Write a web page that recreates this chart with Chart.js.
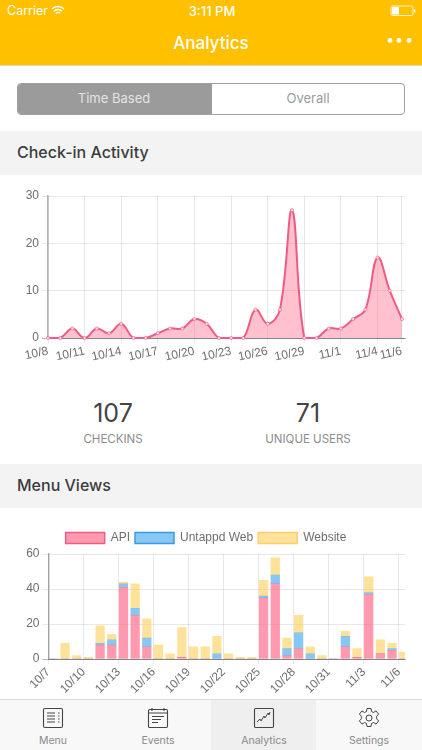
<!DOCTYPE html>
<html><head><meta charset="utf-8">
<script src="https://cdn.jsdelivr.net/npm/chart.js@4"></script>
<style>
*{box-sizing:border-box}
html,body{margin:0;padding:0;background:#fff;overflow:hidden}
body{width:422px;height:750px;position:relative;font-family:Inter,Roboto,sans-serif}
.a{position:absolute}
.t{position:absolute;white-space:nowrap;line-height:1}
.c{transform:translateX(-50%)}
canvas{position:absolute}
.sec{position:absolute;left:0;width:422px;height:44px;background:#f3f3f3;color:#3c3c3c;font-size:16px;font-weight:500;padding:12px 0 0 17px;line-height:18px}
</style></head><body>
<div class="a" style="left:0;top:0;width:422px;height:66px;background:#ffc000;border-bottom:1px solid #e8d9a8"></div>
<div class="t" style="left:7px;top:5px;font-size:12.5px;color:#fff">Carrier</div>
<svg class="a" style="left:51px;top:5px" width="14" height="11" viewBox="0 0 14 11" fill="none" stroke="#fff" stroke-width="1.4"><path d="M1 4a8.500 8.500 0 0 1 12 0M3 6.200a5.500 5.500 0 0 1 8 0M5 8.300a2.600 2.600 0 0 1 4 0"/></svg>
<div class="t c" style="left:212px;top:5px;font-size:13px;font-weight:500;color:#fff">3:11 PM</div>
<svg class="a" style="left:390px;top:5px" width="26" height="12" viewBox="0 0 26 12"><rect x="1" y="1" width="22" height="9.500" rx="1.500" fill="none" stroke="#fff" stroke-width=".8"/><rect x="2" y="2" width="7" height="7.500" fill="#fff"/><rect x="24" y="4.500" width="1.300" height="3" fill="#fff"/></svg>
<div class="t c" style="left:211px;top:35px;font-size:17px;font-weight:500;color:#fff">Analytics</div>
<svg class="a" style="left:386px;top:36px" width="26" height="9"><circle cx="4" cy="4.500" r="2.400" fill="#fff"/><circle cx="13" cy="4.500" r="2.400" fill="#fff"/><circle cx="23" cy="4.500" r="2.400" fill="#fff"/></svg>

<div class="a" style="left:17px;top:83px;width:388px;height:32px;border:1px solid #a0a0a0;border-radius:4px;background:#fff;overflow:hidden"><div class="a" style="left:0;top:0;width:194px;height:32px;background:#9b9b9b"></div></div>
<div class="t c" style="left:114px;top:92px;font-size:13px;color:#e4e4e4">Time Based</div>
<div class="t c" style="left:308px;top:92px;font-size:13px;color:#9b9b9b">Overall</div>

<div class="sec" style="top:131px">Check-in Activity</div>
<canvas id="lineChart" style="left:0;top:176px;width:422px;height:194px"></canvas>

<div class="t c" style="left:113px;top:401px;font-size:25px;color:#444">107</div>
<div class="t c" style="left:113px;top:434px;font-size:11.500px;color:#8c8c8c">CHECKINS</div>
<div class="t c" style="left:308px;top:401px;font-size:25px;color:#444">71</div>
<div class="t c" style="left:308px;top:434px;font-size:11.500px;color:#8c8c8c">UNIQUE USERS</div>

<div class="sec" style="top:464px">Menu Views</div>
<canvas id="barChart" style="left:0;top:526px;width:422px;height:173px"></canvas>

<div class="a" style="left:0;top:699px;width:422px;height:51px;background:#f8f8f8;border-top:1px solid #dcdcdc"></div>
<div class="a" style="left:211px;top:700px;width:105px;height:50px;background:#efefef"></div>
<svg class="a" style="left:42px;top:707px" width="22" height="22" viewBox="0 0 22 22" fill="none" stroke="#444"><rect x="1.500" y="1.500" width="19" height="19" rx="1.500" stroke-width="1.100"/><path d="M5 6h8M5 9h8M5 12h8M5 15h8M16 6h1.500M16 9h1.500M16 12h1.500M16 15h1.500" stroke-width="1.200"/></svg>
<svg class="a" style="left:147px;top:707px" width="22" height="22" viewBox="0 0 22 22" fill="none" stroke="#444" stroke-width="1.100"><rect x="1.500" y="2.500" width="19" height="18" rx="1.200"/><path d="M1.500 6h19M5 1v3M17 1v3M5 9.500h12M5 12.500h9M5 15.500h6"/></svg>
<svg class="a" style="left:253px;top:707px" width="22" height="22" viewBox="0 0 22 22" fill="none" stroke="#444"><rect x="1.500" y="1.500" width="19" height="19" rx="1.200" stroke-width="1.100"/><path d="M4 15l3-3 1 2 3-5 1 2 3-5 1 2 1-3" stroke-width="1"/></svg>
<svg class="a" style="left:358px;top:707px" width="22" height="22" viewBox="0 0 22 22" fill="none" stroke="#444" stroke-width="1"><circle cx="11" cy="11" r="3"/><path d="M9 1.500h4l.5 3 2 1 2.600-1.600 2.500 3.200-2 2.200v2.400l2 2.200-2.500 3.200-2.600-1.600-2 1-.5 3H9l-.5-3-2-1-2.600 1.600-2.500-3.200 2-2.200V9.300l-2-2.200 2.500-3.200 2.600 1.600 2-1z"/></svg>
<div class="t c" style="left:53px;top:736px;font-size:10.500px;color:#8a8a8a">Menu</div>
<div class="t c" style="left:158px;top:736px;font-size:10.500px;color:#8a8a8a">Events</div>
<div class="t c" style="left:264px;top:736px;font-size:10.500px;color:#8a8a8a">Analytics</div>
<div class="t c" style="left:369px;top:736px;font-size:10.500px;color:#8a8a8a">Settings</div>

<script>
const checkinDates = ["10/8","10/9","10/10","10/11","10/12","10/13","10/14","10/15","10/16","10/17","10/18","10/19","10/20","10/21","10/22","10/23","10/24","10/25","10/26","10/27","10/28","10/29","10/30","10/31","11/1","11/2","11/3","11/4","11/5","11/6"];
const checkins = [0,0,2,0,2,1,3,0,0,1,2,2,4,3,0,0,0,6,3,6,27,0,0,2,2,4,6,17,10,4];
const checkinTickIndexes = [0,3,6,9,12,15,18,21,24,27,29];

const menuDates = ["10/7","10/8","10/9","10/10","10/11","10/12","10/13","10/14","10/15","10/16","10/17","10/18","10/19","10/20","10/21","10/22","10/23","10/24","10/25","10/26","10/27","10/28","10/29","10/30","10/31","11/1","11/2","11/3","11/4","11/5","11/6"];
const apiViews =     [0,0,0,0,8,8,41,25,7,0,0,1,0,0,0,0,0,0,35,43,2,6,0,0,0,7,1,37,3,5,0];
const untappdViews = [0,0,0,0,1,3,2,4,5,0,0,0,0,0,3,0,0,0,1,5,4,9,3,0,0,6,0,1,0,1,0];
const websiteViews = [0,9,2,1,10,3,1,14,11,8,3,17,7,7,10,3,1,1,9,10,6,10,4,2,0,3,5,9,8,3,4];
const menuTickStep = 3;

const GRID='rgba(0,0,0,0.09)', TXT='#6e6e6e';
Chart.defaults.font.family='"Liberation Sans",Arial,sans-serif';
Chart.defaults.font.size=12;
Chart.defaults.color=TXT;
Chart.defaults.animation=false;
const yGrid=c=>c.tick&&c.tick.value===0?'rgba(0,0,0,0.28)':GRID;

new Chart(document.getElementById('lineChart'),{
  type:'line',
  data:{datasets:[{
    data:checkins.map((v,i)=>({x:i,y:v})),
    borderColor:'#ee5c86',backgroundColor:'rgba(255,99,132,0.4)',borderWidth:2,
    fill:true,tension:0.4,pointRadius:1.6,pointBackgroundColor:'#ffd7e0',pointBorderColor:'#ee5c86',pointBorderWidth:0.6,clip:false
  }]},
  options:{responsive:false,
    layout:{padding:{top:20,right:17,left:0,bottom:0}},
    plugins:{legend:{display:false},tooltip:{enabled:false}},
    scales:{
      x:{type:'linear',min:0,max:29.25,
        afterBuildTicks:s=>{s.ticks=checkinTickIndexes.map(value=>({value}));},
        afterFit:s=>{s.height=32;},
        border:{color:'rgba(0,0,0,0.28)'},
        grid:{color:GRID,tickLength:5},
        ticks:{autoSkip:false,minRotation:12,maxRotation:12,padding:1,font:{size:12},callback:v=>checkinDates[v]}},
      y:{min:0,max:30,
        afterFit:s=>{s.width=48;},
        border:{color:'rgba(0,0,0,0.3)',width:1.5},
        grid:{color:yGrid,tickLength:6},
        ticks:{stepSize:10,padding:3,font:{size:12}}}
    }}
});

const barSeries=[
 {label:'API',values:apiViews,fill:'rgba(255,99,132,0.65)',edge:'#ee5c86'},
 {label:'Untappd Web',values:untappdViews,fill:'rgba(54,162,235,0.6)',edge:'#3a9be0'},
 {label:'Website',values:websiteViews,fill:'rgba(255,206,86,0.6)',edge:'#fbd06c'}];
new Chart(document.getElementById('barChart'),{
  type:'bar',
  data:{datasets:barSeries.map(s=>({
    label:s.label,
    data:s.values.map((v,i)=>({x:i+0.42,y:v})),
    backgroundColor:s.fill,borderWidth:0,barThickness:8.6
  }))},
  options:{responsive:false,
    layout:{padding:{top:1,right:17,left:7,bottom:0}},
    plugins:{tooltip:{enabled:false},
      legend:{position:'top',labels:{boxWidth:39,boxHeight:11,padding:5,font:{size:12,lineHeight:1.5},color:TXT,
        generateLabels:()=>barSeries.map((s,i)=>({text:s.label,fillStyle:s.fill,strokeStyle:s.edge,lineWidth:1.5,datasetIndex:i,fontColor:TXT}))}}},
    scales:{
      x:{type:'linear',offset:false,stacked:true,min:0,max:30.53,
        afterBuildTicks:s=>{const t=[];for(let i=0;i<menuDates.length;i+=menuTickStep)t.push({value:i});s.ticks=t;},
        afterFit:s=>{s.height=40;},
        border:{color:'rgba(0,0,0,0.28)'},
        grid:{offset:false,color:GRID,tickLength:5},
        ticks:{autoSkip:false,minRotation:45,maxRotation:45,padding:1,font:{size:12},callback:v=>menuDates[v]}},
      y:{stacked:true,min:0,max:60,
        afterFit:s=>{s.width=41.5;},
        border:{color:'rgba(0,0,0,0.3)',width:1.5},
        grid:{color:yGrid,tickLength:6},
        ticks:{stepSize:20,padding:3,font:{size:12}}}
    }}
});
</script>
</body></html>
